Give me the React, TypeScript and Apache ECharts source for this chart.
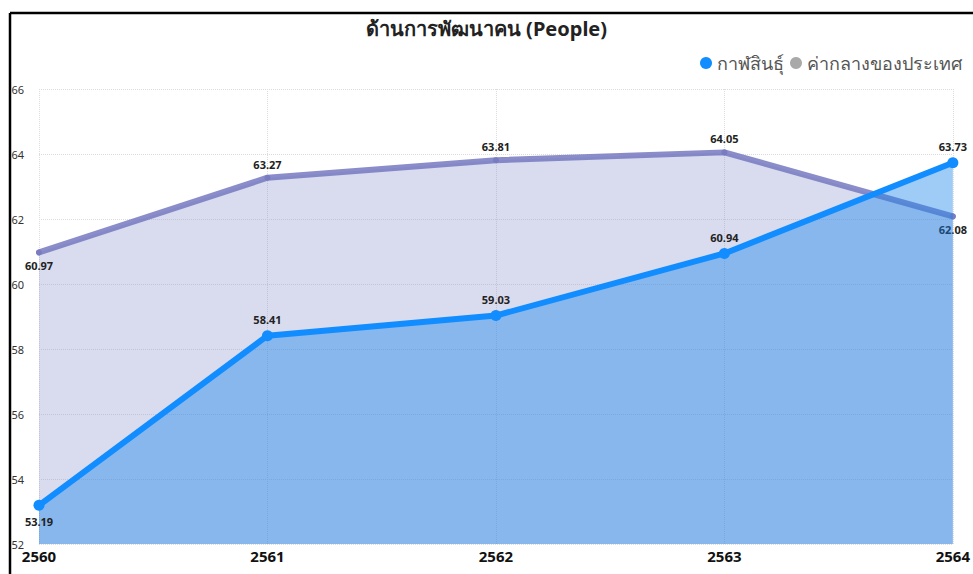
import React, { useEffect, useRef } from "react";
import * as echarts from "echarts";

const years = ["2560", "2561", "2562", "2563", "2564"];
const kalasin = [53.19, 58.41, 59.03, 60.94, 63.73];
const national = [60.97, 63.27, 63.81, 64.05, 62.08];
const kalasinLabelPos = ["bottom", "top", "top", "top", "top"];
const nationalLabelPos = ["bottom", "top", "top", "top", "bottom"];

const FONT = "'Noto Sans', 'DejaVu Sans', sans-serif";

export default function App() {
  const ref = useRef<HTMLDivElement>(null);
  useEffect(() => {
    const chart = echarts.init(ref.current!, null, { renderer: "svg" });
    const lbl = (v: number, p: string) => ({
      value: v,
      label: { position: p },
    });
    const labelStyle = {
      show: true,
      fontSize: 11,
      fontWeight: "bold",
      color: "#222",
      distance: 5,
      fontFamily: FONT,
    };
    chart.setOption({
      animation: false,
      textStyle: { fontFamily: FONT },
      title: {
        text: "ด้านการพัฒนาคน (People)",
        left: "center",
        top: 13,
        textStyle: { fontSize: 20, fontWeight: "bold", color: "#222", fontFamily: FONT },
      },
      legend: {
        right: 6,
        top: 49,
        icon: "circle",
        itemWidth: 12,
        itemHeight: 12,
        itemGap: 6,
        textStyle: { fontSize: 18, color: "#555", fontFamily: FONT },
        data: [
          { name: "กาฬสินธุ์", itemStyle: { color: "#118DFF" } },
          { name: "ค่ากลางของประเทศ", itemStyle: { color: "#a9a9a9" } },
        ],
      },
      grid: { left: 39, right: 15, top: 89, bottom: 30 },
      xAxis: {
        type: "category",
        data: years,
        boundaryGap: false,
        axisLine: { show: false },
        axisTick: { show: false },
        axisLabel: { fontSize: 15, fontWeight: "bold", color: "#111", margin: 4, fontFamily: FONT },
        splitLine: { show: true, lineStyle: { color: "#dcdcdc", type: "dotted" } },
      },
      yAxis: {
        type: "value",
        min: 52,
        max: 66,
        interval: 2,
        axisLine: { show: false },
        axisTick: { show: false },
        axisLabel: { fontSize: 11, color: "#333", margin: 15, fontFamily: FONT },
        splitLine: { show: true, lineStyle: { color: "#dcdcdc", type: "dotted" } },
      },
      graphic: [
        { type: "line", shape: { x1: 10, y1: 13, x2: 973, y2: 13 }, style: { stroke: "#000", lineWidth: 2.5 } },
        { type: "line", shape: { x1: 10, y1: 13, x2: 10, y2: 574 }, style: { stroke: "#000", lineWidth: 2.5 } },
      ],
      series: [
        {
          name: "ค่ากลางของประเทศ",
          type: "line",
          data: national.map((v, i) => lbl(v, nationalLabelPos[i])),
          symbol: "circle",
          symbolSize: 6,
          showAllSymbol: true,
          z: 2,
          lineStyle: { color: "rgba(118,121,192,0.85)", width: 6, cap: "round" },
          itemStyle: { color: "rgba(118,121,192,0.85)", borderWidth: 0 },
          areaStyle: { color: "rgba(140,145,205,0.33)", opacity: 1, origin: "start" },
          label: labelStyle,
        },
        {
          name: "กาฬสินธุ์",
          type: "line",
          data: kalasin.map((v, i) => lbl(v, kalasinLabelPos[i])),
          symbol: "circle",
          symbolSize: 11,
          showAllSymbol: true,
          z: 3,
          lineStyle: { color: "#118DFF", width: 6 },
          itemStyle: { color: "#118DFF", borderWidth: 0 },
          areaStyle: { color: "rgba(20,130,235,0.41)", opacity: 1, origin: "start" },
          label: labelStyle,
        },
      ],
    });
    return () => chart.dispose();
  }, []);
  return (
    <div
      ref={ref}
      style={{ position: "fixed", left: 0, top: 0, width: 973, height: 574, background: "#fff" }}
    />
  );
}
